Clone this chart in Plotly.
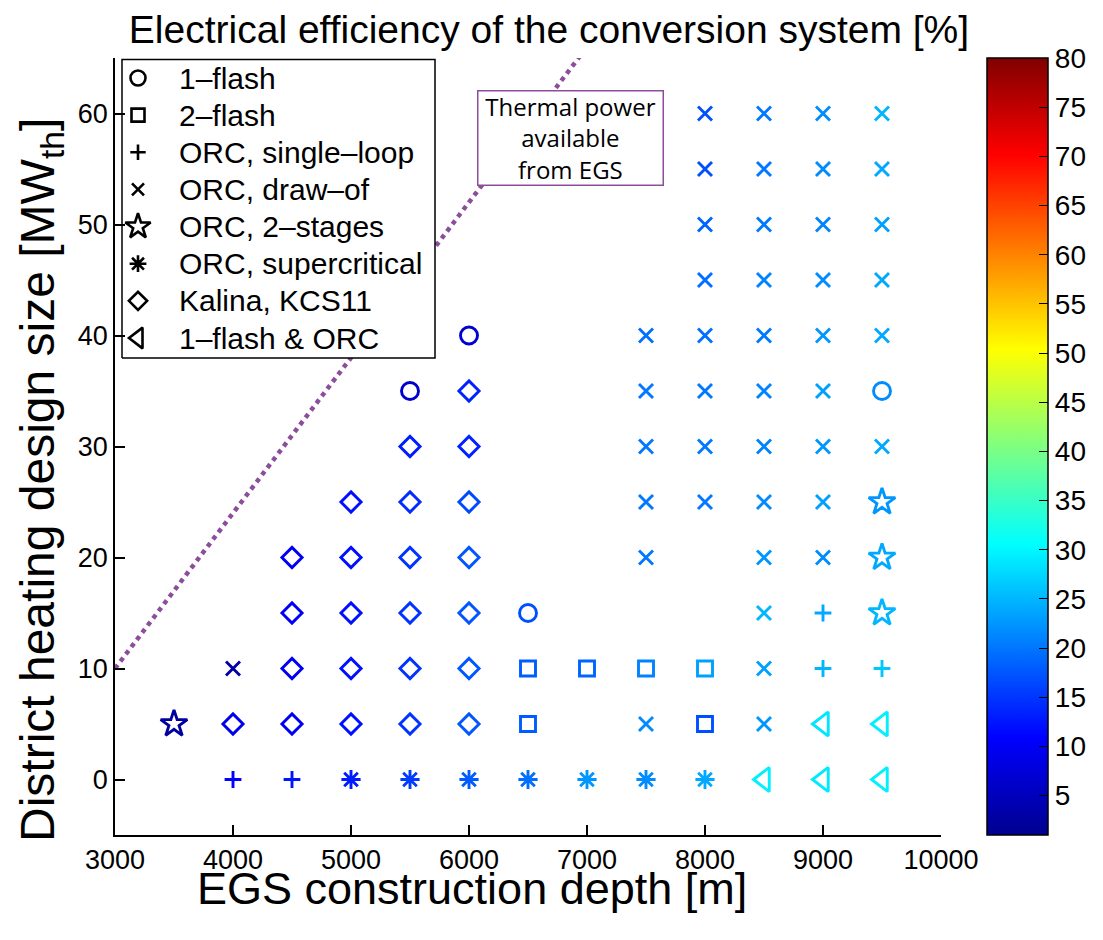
import plotly.graph_objects as go

# ---------------- data ----------------
flash1_depth = [6000, 5500, 9500, 6500]
flash1_size = [40, 35, 35, 15]
flash1_eff = [7.0, 6.5, 21.7, 17.0]

flash2_depth = [6500, 7000, 7500, 8000, 6500, 8000]
flash2_size = [10, 10, 10, 10, 5, 5]
flash2_eff = [18.0, 18.6, 21.0, 23.3, 18.0, 17.0]

orc_single_depth = [4000, 4500, 9000, 9000, 9500]
orc_single_size = [0, 0, 15, 10, 10]
orc_single_eff = [11.0, 12.5, 24.0, 25.0, 26.4]

orc_draw_depth = [4000, 7500, 8500, 8500, 8500,
                  7500, 8500, 9000,
                  7500, 8000, 8500, 9000,
                  7500, 8000, 8500, 9000, 9500,
                  7500, 8000, 8500, 9000,
                  7500, 8000, 8500, 9000, 9500,
                  8000, 8500, 9000, 9500,
                  8000, 8500, 9000, 9500,
                  8000, 8500, 9000, 9500,
                  8000, 8500, 9000, 9500]
orc_draw_size = [10, 5, 5, 10, 15,
                 20, 20, 20,
                 25, 25, 25, 25,
                 30, 30, 30, 30, 30,
                 35, 35, 35, 35,
                 40, 40, 40, 40, 40,
                 45, 45, 45, 45,
                 50, 50, 50, 50,
                 55, 55, 55, 55,
                 60, 60, 60, 60]
orc_draw_eff = [3.0, 21.7, 22.5, 23.3, 25.0,
                20.2, 22.5, 21.7,
                20.2, 20.2, 21.7, 23.3,
                20.2, 20.2, 21.0, 22.5, 24.0,
                20.2, 20.2, 21.0, 23.3,
                19.4, 19.4, 20.2, 22.5, 24.0,
                19.4, 21.0, 21.7, 24.0,
                18.6, 20.2, 21.0, 23.3,
                17.1, 20.2, 21.7, 24.0,
                17.1, 20.2, 21.7, 24.8]

orc_2stage_depth = [3500, 9500, 9500, 9500]
orc_2stage_size = [5, 25, 20, 15]
orc_2stage_eff = [2.5, 22.5, 24.0, 25.0]

orc_super_depth = [5000, 5500, 6000, 6500, 7000, 7500, 8000]
orc_super_size = [0, 0, 0, 0, 0, 0, 0]
orc_super_eff = [13.0, 15.5, 18.0, 19.4, 22.5, 21.7, 24.0]

kalina_depth = [4000,
                4500, 4500, 4500, 4500,
                5000, 5000, 5000, 5000, 5000,
                5500, 5500, 5500, 5500, 5500, 5500,
                6000, 6000, 6000, 6000, 6000, 6000, 6000]
kalina_size = [5,
               5, 10, 15, 20,
               5, 10, 15, 20, 25,
               5, 10, 15, 20, 25, 30,
               5, 10, 15, 20, 25, 30, 35]
kalina_eff = [9.0,
              10.0, 10.0, 10.0, 10.0,
              12.0, 12.0, 12.0, 12.0, 12.0,
              14.8, 14.8, 14.8, 14.8, 14.3, 13.0,
              17.5, 17.5, 17.5, 17.5, 16.5, 13.5, 13.5]

flash_orc_depth = [8500, 9000, 9500, 9000, 9500]
flash_orc_size = [0, 0, 0, 5, 5]
flash_orc_eff = [29.5, 29.0, 29.5, 28.7, 29.5]

thermal_depth = [3000, 4000, 5000, 6000, 7000]
thermal_power = [10, 24, 38, 52, 66]

x_ticks = [3000, 4000, 5000, 6000, 7000, 8000, 9000, 10000]
y_ticks = [0, 10, 20, 30, 40, 50, 60]
cbar_ticks = [5, 10, 15, 20, 25, 30, 35, 40, 45, 50, 55, 60, 65, 70, 75, 80]

# ---------------- styling ----------------
FONT = "Liberation Sans, Arial, Helvetica, sans-serif"
PURPLE = "rgb(140,78,155)"
jet = [[0.0, "rgb(0,0,143)"], [0.125, "rgb(0,0,255)"], [0.375, "rgb(0,255,255)"],
       [0.625, "rgb(255,255,0)"], [0.875, "rgb(255,0,0)"], [1.0, "rgb(128,0,0)"]]

# name, x, y, colour values, symbol, size on plot, size in legend
series = [
    ("1\u2013flash", flash1_depth, flash1_size, flash1_eff, "circle-open", 17, 15),
    ("2\u2013flash", flash2_depth, flash2_size, flash2_eff, "square-open", 15, 13),
    ("ORC, single\u2013loop", orc_single_depth, orc_single_size, orc_single_eff, "cross-thin-open", 12, 11),
    ("ORC, draw\u2013of", orc_draw_depth, orc_draw_size, orc_draw_eff, "x-thin-open", 14, 12),
    ("ORC, 2\u2013stages", orc_2stage_depth, orc_2stage_size, orc_2stage_eff, "star-open", 20, 19),
    ("ORC, supercritical", orc_super_depth, orc_super_size, orc_super_eff, "asterisk-open", 16, 14),
    ("Kalina, KCS11", kalina_depth, kalina_size, kalina_eff, "diamond-open", 15.5, 14),
    ("1\u2013flash & ORC", flash_orc_depth, flash_orc_size, flash_orc_eff, "triangle-left-open", 21, 18),
]

# page body has an 8px offset; layout computed in reference pixels
OFF = 8
PL, PR, PT, PB = 115, 941, 58, 835          # plot area in reference pixels
PW, PH = PR - PL, PB - PT


def px(x):
    return (x - PL) / PW


def py(y):
    return (PB - y) / PH


fig = go.Figure()

# thermal power line
fig.add_trace(go.Scatter(
    x=thermal_depth, y=thermal_power, mode="lines",
    line=dict(color=PURPLE, width=4.5, dash="dot"),
    showlegend=False, hoverinfo="skip"))

for name, xs, ys, cs, sym, size, lsize in series:
    fig.add_trace(go.Scatter(
        x=xs, y=ys, mode="markers", showlegend=False, name=name,
        marker=dict(symbol=sym, size=size, color=cs, coloraxis="coloraxis",
                    opacity=1, line=dict(width=2.9))))

# ---- legend drawn on an overlay subplot (fraction coordinates) ----
lx0, lx1, ly0, ly1 = px(122), px(435), py(358), 0.998
fig.add_trace(go.Scatter(
    x=[lx0, lx1, lx1, lx0, lx0], y=[ly0, ly0, ly1, ly1, ly0],
    xaxis="x2", yaxis="y2", mode="lines", fill="toself",
    fillcolor="white", line=dict(color="black", width=1.5),
    showlegend=False, hoverinfo="skip"))

row_top, row_gap = 78, (338 - 78) / 7
legend_rows = [py(row_top + i * row_gap) for i in range(len(series))]
fig.add_trace(go.Scatter(
    x=[px(138)] * len(series), y=legend_rows, xaxis="x2", yaxis="y2",
    mode="markers", showlegend=False, hoverinfo="skip",
    marker=dict(symbol=[s[4] for s in series], size=[s[6] for s in series],
                color="black", opacity=1, line=dict(width=2.6, color="black"))))

for (name, *_), ry in zip(series, legend_rows):
    fig.add_annotation(x=px(177), y=ry, xref="paper", yref="paper",
                       text=name, showarrow=False, xanchor="left", yanchor="middle",
                       font=dict(family=FONT, size=30, color="black"))

fig.add_annotation(
    x=6856, y=57.8, xref="x", yref="y",
    text="Thermal power<br>available<br>from EGS", showarrow=False,
    font=dict(family="Open Sans, Noto Sans, sans-serif", size=24, color="black"),
    align="center", bgcolor="white", bordercolor=PURPLE,
    borderwidth=1.5, borderpad=1, width=182, height=91)

# axis titles
fig.add_annotation(
    x=px(472), y=py(888), xref="paper", yref="paper", showarrow=False,
    xanchor="center", yanchor="middle",
    text="EGS construction depth [m]",
    font=dict(family=FONT, size=45, color="black"))
fig.add_annotation(
    x=px(41), y=py(480), xref="paper", yref="paper", showarrow=False,
    xanchor="center", yanchor="middle", textangle=-90,
    text="District heating design size [MW<sub>th</sub>]",
    font=dict(family=FONT, size=48, color="black"))

fig.update_layout(
    width=1103, height=940,
    margin=dict(l=PL - OFF, r=1103 - (PR - OFF), t=PT - OFF, b=940 - (PB - OFF),
                autoexpand=False),
    paper_bgcolor="white", plot_bgcolor="white",
    font=dict(family=FONT, color="black"),
    title=dict(text="Electrical efficiency of the conversion system [%]",
               x=(549 - OFF) / 1103, xref="container", xanchor="center",
               y=1 - (29 - OFF) / 940, yref="container", yanchor="middle",
               font=dict(family=FONT, size=39, color="black")),
    coloraxis=dict(
        colorscale=jet, cmin=1, cmax=80,
        colorbar=dict(
            x=px(987), xanchor="left", xpad=0, ypad=0,
            y=0.5, yanchor="middle", len=1, lenmode="fraction",
            thickness=61, outlinecolor="black", outlinewidth=1.5,
            tickvals=cbar_ticks, ticks="inside", ticklen=9,
            tickcolor="black", tickwidth=1.2,
            tickfont=dict(family=FONT, size=28, color="black"))),
    xaxis=dict(range=[3000, 10000], tickvals=x_ticks, tickformat="d", ticks="inside",
               ticklen=10, tickwidth=1.5, tickcolor="black",
               showline=True, linecolor="black", linewidth=1.5,
               showgrid=False, zeroline=False,
               tickfont=dict(family=FONT, size=27, color="black")),
    yaxis=dict(range=[-5, 65], tickvals=y_ticks, ticks="inside",
               ticklen=10, tickwidth=1.5, tickcolor="black",
               showline=True, linecolor="black", linewidth=1.5,
               showgrid=False, zeroline=False,
               tickfont=dict(family=FONT, size=27, color="black")),
    xaxis2=dict(overlaying="x", range=[0, 1], visible=False, fixedrange=True),
    yaxis2=dict(overlaying="y", range=[0, 1], visible=False, fixedrange=True),
    showlegend=False,
)

fig.write_html("out.html")
